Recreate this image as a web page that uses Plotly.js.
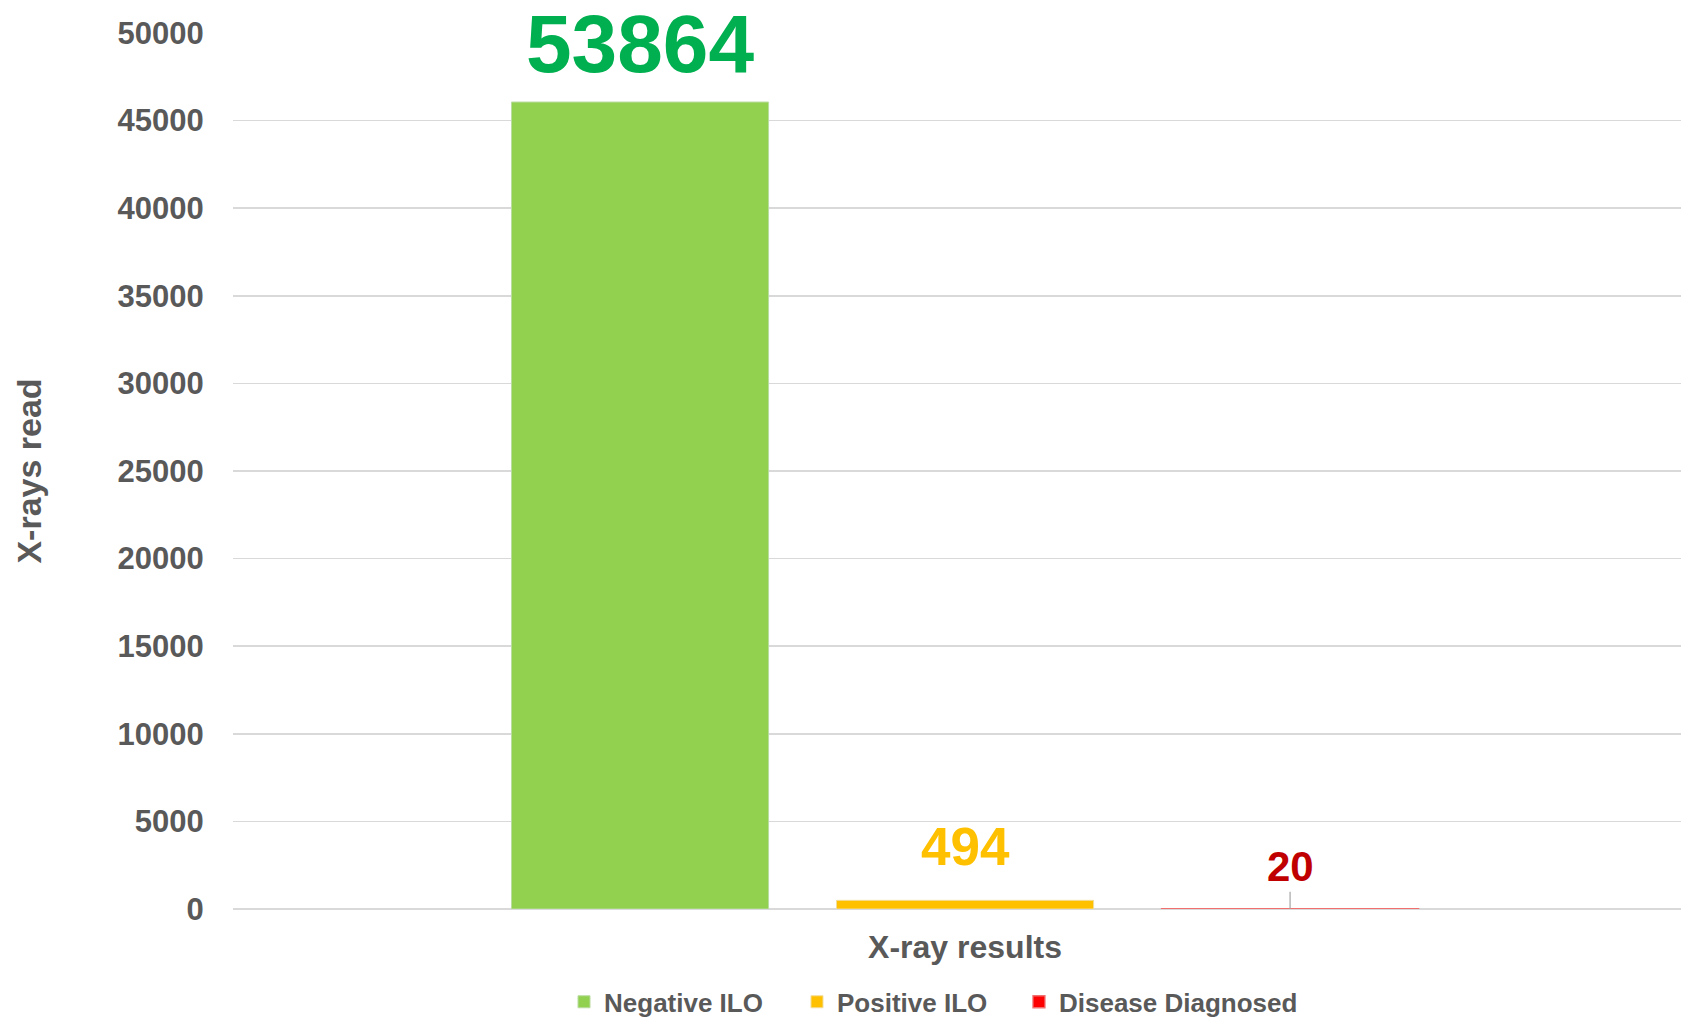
<!DOCTYPE html>
<html>
<head>
<meta charset="utf-8">
<script src="https://cdn.plot.ly/plotly-3.0.1.min.js"></script>
<style>
html,body{margin:0;padding:0;background:#fff;}
#chart{width:1681px;height:1017px;}
</style>
</head>
<body>
<div id="chart"></div>
<script>
// ---- data ----
const category = ["X-ray results"];
const seriesNames = ["Negative ILO", "Positive ILO", "Disease Diagnosed"];
const seriesValues = [46060, 494, 20];
const labelTexts = ["53864", "494", "20"];
const yTickValues = [0, 5000, 10000, 15000, 20000, 25000, 30000, 35000, 40000, 45000, 50000];

// ---- styles ----
const fillColors = ["#92D050", "#FFC000", "#FF0000"];
const edgeColors = ["#B9DCA0", "#F2DC9A", "#F07070"];
const edgeWidths = [1, 1, 1.3];
const labelColors = ["#00B050", "#FFC000", "#C00000"];
const labelSizes = [82, 53, 42];
const labelShift = [59, 54, 0];
const legendX = [0.2286, 0.3895, 0.5428];
const FONT = "Arial, 'Liberation Sans', sans-serif";
const GREY = "#595959";
const bargap = 0.334;
const bargroupgap = 0.209;

const legendIds = ["legend", "legend2", "legend3"];

const traces = seriesNames.map((name, i) => ({
  type: "bar",
  name: name,
  x: category,
  y: [seriesValues[i]],
  legend: legendIds[i],
  marker: { color: fillColors[i], line: { color: edgeColors[i], width: edgeWidths[i] } },
  hoverinfo: "skip"
}));

const slot = (1 - bargap) / seriesNames.length;
const annotations = seriesNames.map((name, i) => {
  const xc = (i - (seriesNames.length - 1) / 2) * slot;
  const base = {
    x: xc, y: seriesValues[i], xref: "x", yref: "y",
    text: "<b>" + labelTexts[i] + "</b>",
    font: { family: FONT, size: labelSizes[i], color: labelColors[i] }
  };
  if (i === 2) {
    return Object.assign(base, {
      showarrow: true, arrowhead: 0, arrowwidth: 1.2, arrowcolor: "#A6A6A6",
      ax: 0, ay: -42, standoff: 0
    });
  }
  return Object.assign(base, { showarrow: false, yanchor: "middle", yshift: labelShift[i] });
});

const layout = {
  width: 1681, height: 1017,
  paper_bgcolor: "#ffffff", plot_bgcolor: "#ffffff",
  margin: { l: 233, r: 0, t: 33, b: 108, pad: 0, autoexpand: false },
  barmode: "group",
  bargap: bargap,
  bargroupgap: bargroupgap,
  font: { family: FONT, color: GREY },
  showlegend: true,
  xaxis: {
    type: "category",
    range: [-0.5, 0.489],
    showgrid: false, zeroline: false, showline: false,
    ticks: "outside", ticklen: 10, tickcolor: "rgba(0,0,0,0)",
    tickfont: { family: FONT, size: 32, color: GREY, weight: "bold" },
    fixedrange: true
  },
  yaxis: {
    range: [0, 50000],
    tickvals: yTickValues,
    ticktext: yTickValues.map(String),
    showgrid: true, gridcolor: "#D9D9D9", gridwidth: 1.6,
    zeroline: true, zerolinecolor: "#D9D9D9", zerolinewidth: 2,
    showline: false,
    ticks: "outside", ticklen: 22, tickcolor: "rgba(0,0,0,0)",
    tickfont: { family: FONT, size: 31, color: GREY, weight: "bold" },
    title: { text: "<b>X-rays read</b>", font: { family: FONT, size: 34, color: GREY }, standoff: 65 },
    fixedrange: true
  },
  annotations: annotations
};

legendIds.forEach((id, i) => {
  layout[id] = {
    orientation: "h", x: legendX[i], xanchor: "left", y: -0.106, yanchor: "middle",
    font: { family: FONT, size: 26, color: GREY, weight: "bold" },
    itemwidth: 30, bgcolor: "rgba(0,0,0,0)"
  };
});

Plotly.newPlot("chart", traces, layout, { displayModeBar: false, staticPlot: true });
</script>
</body>
</html>
